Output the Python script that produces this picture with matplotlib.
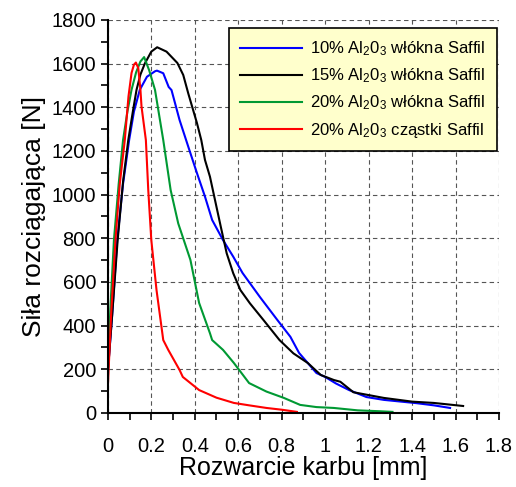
import matplotlib
matplotlib.use("Agg")
import matplotlib.pyplot as plt
from matplotlib.ticker import MultipleLocator

plt.rcParams["font.family"] = ["Liberation Sans", "DejaVu Sans"]
plt.rcParams["mathtext.fontset"] = "custom"
plt.rcParams["mathtext.rm"] = "Liberation Sans"
plt.rcParams["mathtext.it"] = "Liberation Sans"

# rozwarcie karbu [mm], sila [N]
x_10 = [0.0, 0.02, 0.043, 0.07, 0.098, 0.12, 0.147, 0.18, 0.217, 0.226, 0.255, 0.28, 0.293,
        0.33, 0.37, 0.41, 0.447, 0.48, 0.53, 0.577, 0.62, 0.70, 0.78, 0.84, 0.88, 0.96,
        1.0, 1.05, 1.11, 1.19, 1.27, 1.35, 1.42, 1.50, 1.575]
y_10 = [190, 450, 790, 1050, 1250, 1380, 1480, 1540, 1565, 1568, 1556, 1493, 1479,
        1342, 1220, 1099, 991, 884, 792, 716, 641, 531, 426, 349, 275, 183,
        165, 135, 105, 73, 60, 52, 45, 35, 23]

x_15 = [0.0, 0.02, 0.045, 0.07, 0.094, 0.115, 0.132, 0.15, 0.17, 0.20, 0.227, 0.27, 0.32,
        0.347, 0.37, 0.41, 0.43, 0.447, 0.47, 0.493, 0.52, 0.547, 0.577, 0.61, 0.654,
        0.716, 0.79, 0.854, 0.92, 0.98, 1.04, 1.07, 1.13, 1.27, 1.40, 1.50, 1.635]
y_15 = [190, 450, 790, 1060, 1250, 1380, 1480, 1550, 1600, 1655, 1675, 1655, 1603,
        1548, 1464, 1328, 1250, 1159, 1082, 976, 852, 731, 640, 563, 502,
        426, 334, 273, 229, 174, 151, 143, 95, 69, 52, 46, 32]

x_20 = [0.0, 0.012, 0.028, 0.05, 0.07, 0.09, 0.109, 0.13, 0.15, 0.167, 0.19, 0.217, 0.255,
        0.289, 0.324, 0.38, 0.42, 0.47, 0.48, 0.53, 0.58, 0.65, 0.73, 0.81, 0.885,
        0.96, 1.04, 1.15, 1.25, 1.31]
y_20 = [190, 486, 792, 1050, 1250, 1380, 1480, 1560, 1610, 1630, 1570, 1480, 1250,
        1021, 868, 701, 504, 365, 334, 289, 229, 137, 98, 69, 37,
        27, 23, 12, 8, 5]

x_20c = [0.0, 0.015, 0.035, 0.055, 0.078, 0.095, 0.109, 0.12, 0.129, 0.14, 0.15, 0.155,
         0.175, 0.186, 0.20, 0.224, 0.255, 0.278, 0.33, 0.345, 0.42, 0.50, 0.58, 0.65,
         0.73, 0.80, 0.87]
y_20c = [120, 450, 792, 1050, 1250, 1450, 1557, 1595, 1605, 1580, 1480, 1403,
         1250, 1021, 792, 563, 334, 289, 197, 165, 105, 70, 46, 35,
         23, 15, 5]

labels = [r"10% Al$_2$0$_3$ włókna Saffil",
          r"15% Al$_2$0$_3$ włókna Saffil",
          r"20% Al$_2$0$_3$ włókna Saffil",
          r"20% Al$_2$0$_3$ cząstki Saffil"]
colors = ["#0000FF", "#000000", "#009933", "#FF0000"]


def main():
    fig = plt.figure(figsize=(5.16, 4.87), dpi=100)
    ax = fig.add_axes([0.209, 0.152, 0.758, 0.807])

    series = [(x_10, y_10), (x_15, y_15), (x_20, y_20), (x_20c, y_20c)]
    for (xs, ys), lab, c in zip(series, labels, colors):
        ax.plot(xs, ys, color=c, lw=1.5, label=lab)

    ax.set_xlim(0, 1.8)
    ax.set_ylim(0, 1800)
    ax.xaxis.set_major_locator(MultipleLocator(0.2))
    ax.xaxis.set_minor_locator(MultipleLocator(0.1))
    ax.yaxis.set_major_locator(MultipleLocator(200))
    ax.yaxis.set_minor_locator(MultipleLocator(100))
    ax.set_xticks([0, 0.2, 0.4, 0.6, 0.8, 1.0, 1.2, 1.4, 1.6, 1.8])
    ax.set_xticklabels(["0", "0.2", "0.4", "0.6", "0.8", "1", "1.2", "1.4", "1.6", "1.8"])

    ax.grid(True, which="major", linestyle=(0, (4, 3)), color="#555555", lw=0.8)
    ax.spines["top"].set_visible(False)
    ax.spines["right"].set_visible(False)
    ax.spines["left"].set_linewidth(1.5)
    ax.spines["bottom"].set_linewidth(1.5)
    ax.tick_params(which="both", direction="out", length=5, width=1.2, labelsize=14.5)
    ax.tick_params(axis="x", pad=12)

    ax.set_xlabel("Rozwarcie karbu [mm]", fontsize=18, labelpad=0)
    ax.set_ylabel("Siła rozciągająca [N]", fontsize=19, labelpad=4)

    leg = ax.legend(loc="upper right", bbox_to_anchor=(0.995, 0.98), borderaxespad=0,
                    fontsize=12, fancybox=False, framealpha=1, handlelength=3.7,
                    labelspacing=0.5, borderpad=0.7, handletextpad=0.5)
    leg.get_frame().set_facecolor("#FFFFCC")
    leg.get_frame().set_edgecolor("black")
    leg.get_frame().set_linewidth(1.2)

    fig.savefig("out.png", dpi=100)
    plt.close(fig)


if __name__ == "__main__":
    main()
